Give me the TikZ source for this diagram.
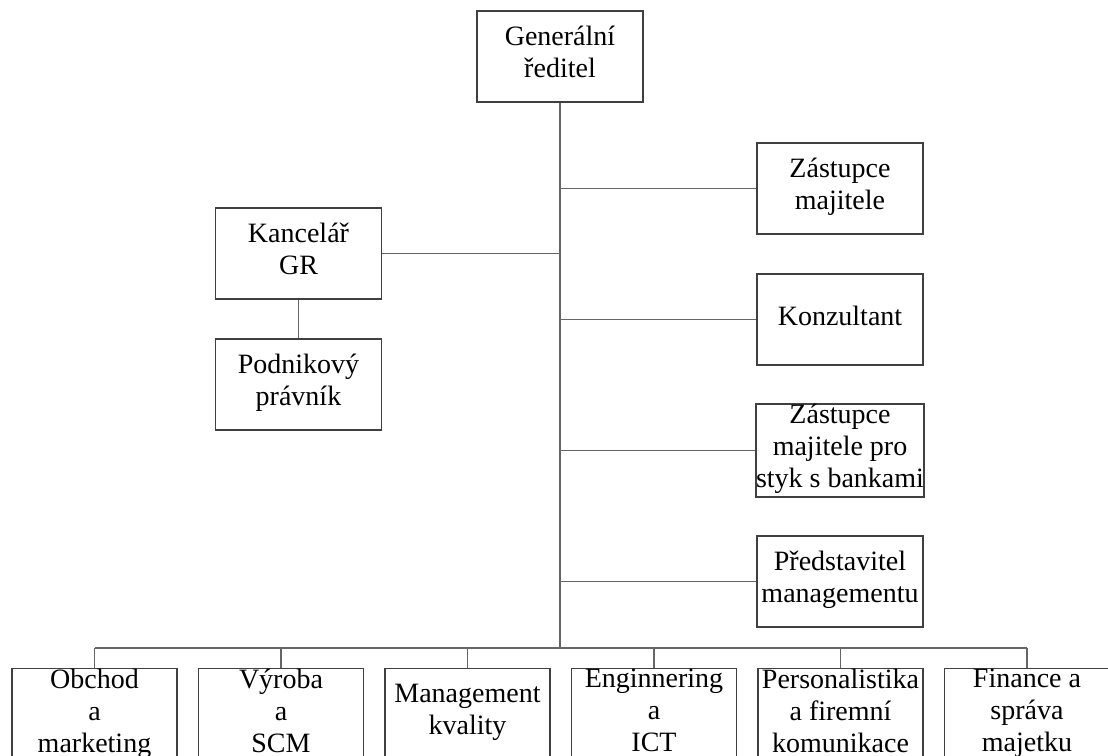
\documentclass[tikz,border=0pt]{standalone}
\usepackage{fontspec}
\setmainfont{Liberation Serif}
\tikzset{box/.style={draw=black!75, line width=0.6pt, align=center,
    minimum width=83pt, minimum height=45.5pt,
    inner xsep=0pt, inner ysep=0pt, font=\fontsize{14}{16}\selectfont,
    execute at begin node=\strut, execute at end node=\strut}}
\tikzset{link/.style={draw=black!60, line width=0.6pt}}

\begin{document}
\begin{tikzpicture}[x=0.5pt, y=-0.5pt]

    \useasboundingbox (0,0) rectangle (1108,755);
    \clip (0,0) rectangle (1108,755);

    \node[box] (GR) at (560,56.5) {Generální\\ředitel};
    \node[box] (KGR) at (298.5,253.5) {Kancelář\\GR};
    \node[box] (PP) at (298.5,384.5) {Podnikový\\právník};

    \node[box] (ZM) at (840,188.5) {Zástupce\\majitele};
    \node[box] (K) at (840,319.5) {Konzultant};
    \node[box] (ZMB) at (840,450.5) {Zástupce\\majitele pro\\styk s bankami};
    \node[box] (PM) at (840,581.5) {Představitel\\managementu};

    \node[box, anchor=north, minimum width=82.5pt] (O) at (94.5,668) {Obchod\\a\\marketing};
    \node[box, anchor=north, minimum width=82.5pt] (V) at (281,668) {Výroba\\a\\SCM};
    \node[box, anchor=north, minimum width=82.5pt] (MK) at (467.5,668) {Management\\kvality};
    \node[box, anchor=north, minimum width=82.5pt] (E) at (654,668) {Enginnering\\a\\ICT};
    \node[box, anchor=north, minimum width=82.5pt] (P) at (840.5,668) {Personalistika\\a firemní\\komunikace};
    \node[box, anchor=north, minimum width=82.5pt] (F) at (1027,668) {Finance a\\správa\\majetku};

    \coordinate (bus) at (560,648);

    % trunk and side branches
    \draw[link] (GR) -- (bus);
    \draw[link] (KGR) -- (KGR -| bus);
    \draw[link] (KGR) -- (PP);
    \foreach \n in {ZM,K,ZMB,PM}
        \draw[link] (\n) -- (\n -| bus);

    % bottom row
    \draw[link] (O |- bus) -- (F |- bus);
    \foreach \n in {O,V,MK,E,P,F}
        \draw[link] (\n) -- (\n |- bus);

\end{tikzpicture}
\end{document}
